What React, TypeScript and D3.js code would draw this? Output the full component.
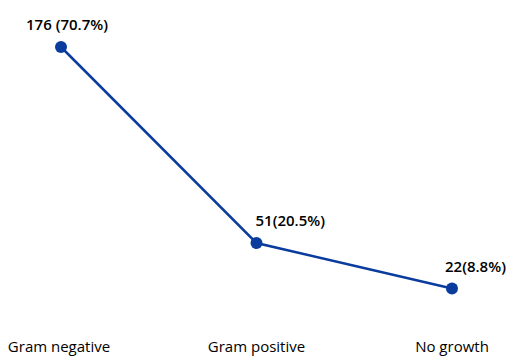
import React from 'react';
import * as d3 from 'd3';

const categories = ["Gram negative", "Gram positive", "No growth"];
const counts = [176, 51, 22];
const valueLabels = ["176 (70.7%)", "51(20.5%)", "22(8.8%)"];

const App: React.FC = () => {
  const width = 519;
  const height = 360;
  const margin = { top: 47, right: 67, bottom: 37, left: 61 };

  const x = d3.scalePoint<string>()
    .domain(categories)
    .range([margin.left, width - margin.right]);

  const y = d3.scaleLinear()
    .domain([0, 176])
    .range([height - margin.bottom, margin.top]);

  const line = d3.line<number>()
    .x((_, i) => x(categories[i])!)
    .y(d => y(d));

  // label placement relative to each point (x shift, anchor)
  const labelDx = [6, -1, -7];
  const labelAnchor = ["middle", "start", "start"];

  const color = "#0a3c9e";
  const font = "'Open Sans', 'Noto Sans', sans-serif";

  return (
    <svg
      width={width}
      height={height}
      style={{ position: 'absolute', left: 0, top: 0, background: '#fff' }}
    >
      <path d={line(counts)!} fill="none" stroke={color} strokeWidth={2.5} />
      {counts.map((d, i) => (
        <circle key={i} cx={x(categories[i])!} cy={y(d)} r={6} fill={color} />
      ))}
      {counts.map((d, i) => (
        <text
          key={i}
          x={x(categories[i])! + labelDx[i]}
          y={y(d) - 17}
          textAnchor={labelAnchor[i] as any}
          fontFamily={font}
          fontSize={15}
          fontWeight={600}
          fill="#000"
        >
          {valueLabels[i]}
        </text>
      ))}
      {categories.map((c, i) => (
        <text
          key={c}
          x={x(c)! - (i === 0 ? 2 : 0)}
          y={352}
          textAnchor="middle"
          fontFamily={font}
          fontSize={15}
          fill="#000"
        >
          {c}
        </text>
      ))}
    </svg>
  );
};

export default App;
